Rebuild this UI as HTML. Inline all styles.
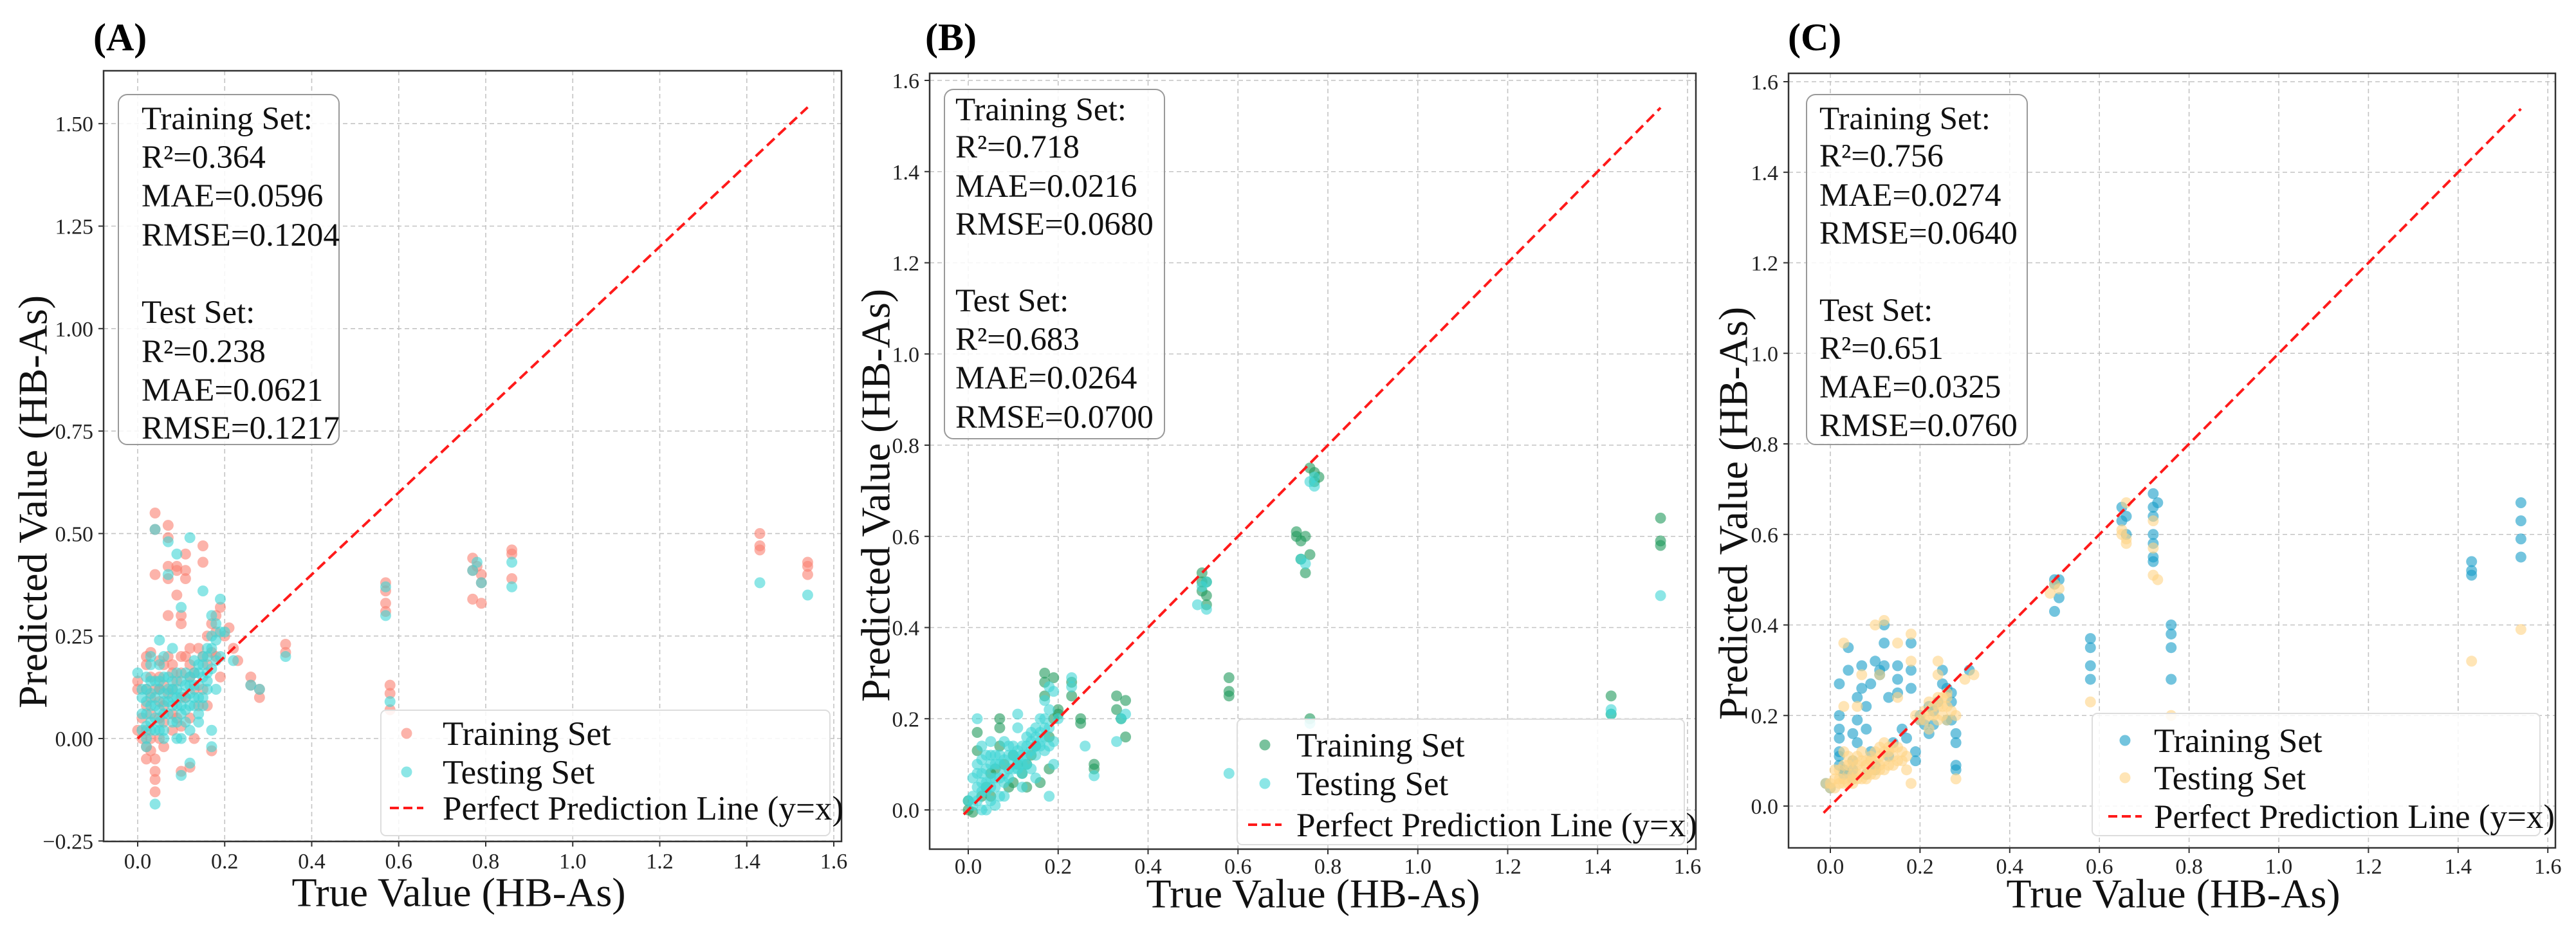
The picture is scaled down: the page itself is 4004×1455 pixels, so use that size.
<!DOCTYPE html>
<html><head><meta charset="utf-8">
<style>
html,body{margin:0;padding:0;background:#fff;}
svg{display:block;}
</style></head>
<body>
<svg id="fig" width="4004" height="1455" viewBox="0 0 4004 1455" xmlns="http://www.w3.org/2000/svg" font-family="'Liberation Serif', serif"></svg>
<script>
// ---- data arrays (true value, predicted value) ----
const aTrain=[[0,0.14],[0,0.12],[0,0.02],[0.01,0.0],[0.01,0.05],[0.02,0.2],[0.02,0.18],[0.02,-0.05],[0.03,0.21],[0.03,0.1],[0.03,-0.03],[0.04,0.55],[0.04,0.51],[0.04,0.4],[0.04,-0.05],[0.04,-0.08],[0.04,-0.1],[0.04,-0.13],[0.05,0.19],[0.05,0.15],[0.05,0.0],[0.06,0.13],[0.06,0.08],[0.07,0.52],[0.07,0.49],[0.07,0.42],[0.07,0.39],[0.07,0.3],[0.08,0.12],[0.08,0.18],[0.09,0.42],[0.09,0.41],[0.09,0.35],[0.09,0.05],[0.1,0.3],[0.1,0.28],[0.1,0.1],[0.1,-0.08],[0.11,0.45],[0.11,0.41],[0.11,0.39],[0.11,0.2],[0.12,0.15],[0.12,-0.07],[0.13,0.12],[0.14,0.22],[0.15,0.47],[0.15,0.43],[0.15,0.2],[0.16,0.25],[0.17,0.28],[0.17,-0.03],[0.18,0.3],[0.18,0.26],[0.19,0.32],[0.19,0.15],[0.2,0.25],[0.21,0.27],[0.22,0.22],[0.23,0.19],[0.26,0.15],[0.26,0.13],[0.28,0.12],[0.28,0.1],[0.34,0.23],[0.34,0.21],[0.57,0.38],[0.57,0.36],[0.57,0.33],[0.57,0.31],[0.58,0.13],[0.58,0.11],[0.58,0.07],[0.77,0.44],[0.77,0.41],[0.77,0.34],[0.78,0.42],[0.79,0.4],[0.79,0.38],[0.79,0.33],[0.86,0.46],[0.86,0.45],[0.86,0.39],[1.43,0.5],[1.43,0.47],[1.43,0.46],[1.54,0.43],[1.54,0.42],[1.54,0.4],[0.02,0.08],[0.03,0.06],[0.04,0.12],[0.05,0.09],[0.06,0.04],[0.07,0.11],[0.08,0.06],[0.09,0.14],[0.1,0.16],[0.11,0.1],[0.12,0.18],[0.13,0.16],[0.14,0.08],[0.15,0.12],[0.16,0.18],[0.17,0.21],[0.02,0.02],[0.03,0.15],[0.05,0.12],[0.06,0.18],[0.08,0.02],[0.1,0.03],[0.12,0.05],[0.02,0.12],[0.03,0.0],[0.05,0.05],[0.06,-0.02],[0.07,0.2],[0.08,0.16],[0.1,0.2],[0.12,0.22],[0.13,0.0],[0.16,0.08],[0.18,0.2],[0.02,-0.02]];
const aTest=[[0,0.16],[0.01,0.1],[0.01,0.06],[0.02,0.12],[0.02,0.03],[0.02,-0.02],[0.03,0.08],[0.03,0.14],[0.03,0.18],[0.04,0.51],[0.04,0.05],[0.04,0.1],[0.04,-0.16],[0.05,0.24],[0.05,0.12],[0.05,0.07],[0.05,0.02],[0.06,0.15],[0.06,0.09],[0.07,0.48],[0.07,0.4],[0.07,0.12],[0.07,0.06],[0.08,0.1],[0.08,0.14],[0.08,0.22],[0.09,0.45],[0.09,0.08],[0.09,0.12],[0.1,0.32],[0.1,0.14],[0.1,0.06],[0.1,-0.09],[0.11,0.16],[0.11,0.1],[0.12,0.49],[0.12,0.13],[0.12,0.08],[0.12,-0.06],[0.13,0.16],[0.13,0.1],[0.14,0.18],[0.14,0.06],[0.15,0.36],[0.15,0.2],[0.15,0.08],[0.16,0.22],[0.16,0.12],[0.17,0.3],[0.17,0.25],[0.17,0.02],[0.17,-0.02],[0.18,0.28],[0.18,0.12],[0.19,0.34],[0.19,0.2],[0.2,0.26],[0.22,0.19],[0.26,0.13],[0.28,0.12],[0.34,0.2],[0.57,0.37],[0.57,0.3],[0.58,0.09],[0.77,0.41],[0.78,0.43],[0.79,0.38],[0.86,0.43],[0.86,0.37],[1.43,0.38],[1.54,0.35],[0.02,0.06],[0.03,0.02],[0.04,0.14],[0.06,0.0],[0.06,0.2],[0.08,0.04],[0.09,0.16],[0.11,0.04],[0.13,0.13],[0.15,0.15],[0.16,0.16],[0.14,0.13],[0.01,0.12],[0.01,0.02],[0.02,0.15],[0.02,0.09],[0.03,0.11],[0.03,0.04],[0.04,0.08],[0.04,0.02],[0.05,0.14],[0.05,0.04],[0.06,0.11],[0.06,0.06],[0.07,0.09],[0.07,0.15],[0.08,0.08],[0.08,0.12],[0.09,0.1],[0.09,0.04],[0.1,0.11],[0.1,0.08],[0.11,0.13],[0.11,0.07],[0.12,0.15],[0.12,0.11],[0.13,0.08],[0.13,0.19],[0.14,0.16],[0.14,0.1],[0.15,0.18],[0.15,0.1],[0.16,0.2],[0.16,0.14],[0.17,0.22],[0.17,0.17],[0.18,0.24],[0.18,0.19],[0.19,0.26],[0.05,0.18],[0.03,0.2],[0.02,0.0],[0.06,0.02],[0.09,0.0],[0.1,0.0],[0.12,0.02],[0.14,0.04]];
const bTrain=[[0,0.02],[0,0],[0.01,-0.005],[0.02,0.17],[0.02,0.13],[0.03,0.03],[0.04,0.05],[0.05,0.08],[0.06,0.09],[0.07,0.2],[0.07,0.18],[0.07,0.14],[0.08,0.1],[0.09,0.05],[0.1,0.12],[0.11,0.1],[0.12,0.08],[0.13,0.1],[0.14,0.12],[0.15,0.14],[0.16,0.06],[0.17,0.3],[0.17,0.28],[0.17,0.25],[0.18,0.16],[0.18,0.09],[0.19,0.29],[0.19,0.2],[0.2,0.22],[0.2,0.21],[0.23,0.28],[0.23,0.25],[0.25,0.2],[0.25,0.19],[0.28,0.1],[0.28,0.09],[0.33,0.25],[0.33,0.22],[0.34,0.2],[0.35,0.24],[0.35,0.16],[0.52,0.52],[0.52,0.5],[0.52,0.48],[0.53,0.47],[0.53,0.45],[0.53,0.5],[0.58,0.29],[0.58,0.26],[0.58,0.25],[0.73,0.61],[0.73,0.6],[0.74,0.59],[0.75,0.6],[0.74,0.55],[0.75,0.52],[0.76,0.56],[0.76,0.2],[0.76,0.75],[0.77,0.74],[0.77,0.72],[0.78,0.73],[1.43,0.25],[1.43,0.21],[1.54,0.64],[1.54,0.59],[1.54,0.58],[0.05,0.03],[0.1,0.06],[0.13,0.05]];
const bTest=[[0,0.02],[0.01,0.03],[0.01,0.07],[0.02,0.2],[0.02,0.1],[0.02,0.05],[0.03,0.14],[0.03,0.08],[0.03,0.04],[0.04,0.12],[0.04,0.06],[0.05,0.15],[0.05,0.1],[0.05,0.05],[0.06,0.12],[0.06,0.07],[0.07,0.1],[0.07,0.03],[0.08,0.15],[0.08,0.08],[0.09,0.12],[0.09,0.07],[0.1,0.14],[0.1,0.09],[0.11,0.18],[0.11,0.11],[0.11,0.21],[0.12,0.12],[0.12,0.08],[0.13,0.14],[0.13,0.1],[0.14,0.15],[0.14,0.09],[0.15,0.16],[0.15,0.12],[0.15,0.07],[0.16,0.2],[0.16,0.14],[0.17,0.24],[0.17,0.18],[0.17,0.13],[0.18,0.27],[0.18,0.14],[0.18,0.03],[0.19,0.26],[0.19,0.1],[0.2,0.2],[0.23,0.29],[0.23,0.27],[0.26,0.14],[0.28,0.075],[0.33,0.15],[0.34,0.2],[0.35,0.21],[0.51,0.45],[0.52,0.49],[0.53,0.5],[0.53,0.44],[0.58,0.08],[0.74,0.55],[0.75,0.54],[0.76,0.19],[0.76,0.72],[0.77,0.71],[0.77,0.73],[1.43,0.22],[1.43,0.21],[1.54,0.47],[0.06,0.01],[0.04,0.0],[0.01,0.01],[0.02,0.02],[0.02,0.08],[0.03,0.06],[0.03,0.11],[0.04,0.04],[0.04,0.09],[0.05,0.07],[0.05,0.12],[0.06,0.05],[0.06,0.1],[0.07,0.07],[0.07,0.12],[0.08,0.06],[0.08,0.11],[0.09,0.09],[0.09,0.14],[0.1,0.1],[0.1,0.12],[0.11,0.09],[0.11,0.13],[0.12,0.1],[0.12,0.14],[0.13,0.12],[0.13,0.16],[0.14,0.13],[0.14,0.17],[0.15,0.14],[0.15,0.18],[0.16,0.15],[0.16,0.17],[0.17,0.16],[0.17,0.2],[0.18,0.18],[0.18,0.22],[0.19,0.15],[0.03,0.0],[0.05,0.02],[0.08,0.03],[0.12,0.05]];
const cTrain=[[-0.01,0.05],[0.0,0.04],[0.02,0.27],[0.02,0.2],[0.02,0.17],[0.02,0.15],[0.02,0.11],[0.03,0.08],[0.04,0.35],[0.04,0.3],[0.05,0.16],[0.05,0.1],[0.06,0.24],[0.06,0.19],[0.06,0.14],[0.07,0.31],[0.07,0.26],[0.08,0.22],[0.08,0.17],[0.09,0.27],[0.09,0.12],[0.1,0.32],[0.1,0.08],[0.11,0.3],[0.11,0.29],[0.12,0.4],[0.12,0.36],[0.12,0.31],[0.13,0.24],[0.14,0.14],[0.15,0.31],[0.15,0.28],[0.15,0.25],[0.16,0.17],[0.17,0.15],[0.18,0.36],[0.18,0.3],[0.18,0.26],[0.19,0.12],[0.19,0.1],[0.2,0.2],[0.21,0.18],[0.22,0.22],[0.23,0.21],[0.24,0.23],[0.25,0.27],[0.25,0.3],[0.26,0.19],[0.27,0.23],[0.27,0.19],[0.28,0.16],[0.28,0.14],[0.28,0.09],[0.28,0.08],[0.31,0.3],[0.5,0.5],[0.5,0.49],[0.5,0.43],[0.51,0.46],[0.51,0.5],[0.58,0.37],[0.58,0.35],[0.58,0.31],[0.58,0.28],[0.65,0.66],[0.65,0.63],[0.66,0.6],[0.66,0.64],[0.72,0.69],[0.72,0.66],[0.72,0.64],[0.72,0.6],[0.72,0.58],[0.72,0.55],[0.72,0.54],[0.73,0.67],[0.76,0.4],[0.76,0.38],[0.76,0.35],[0.76,0.28],[1.43,0.54],[1.43,0.52],[1.43,0.51],[1.54,0.67],[1.54,0.63],[1.54,0.59],[1.54,0.55],[0.02,0.12],[0.05,0.06],[0.08,0.07],[0.02,0.09],[0.03,0.07],[0.05,0.08],[0.1,0.09],[0.13,0.11],[0.2,0.19],[0.23,0.18],[0.26,0.26],[0.27,0.25],[0.22,0.16]];
const cTest=[[-0.01,0.05],[0,0.04],[0.01,0.06],[0.02,0.05],[0.02,0.08],[0.03,0.36],[0.03,0.22],[0.03,0.12],[0.03,0.06],[0.04,0.09],[0.04,0.05],[0.05,0.1],[0.05,0.07],[0.05,0.06],[0.06,0.22],[0.06,0.11],[0.06,0.07],[0.07,0.29],[0.07,0.12],[0.07,0.08],[0.08,0.1],[0.08,0.07],[0.09,0.11],[0.09,0.08],[0.1,0.4],[0.1,0.12],[0.1,0.08],[0.11,0.29],[0.11,0.13],[0.11,0.09],[0.12,0.41],[0.12,0.14],[0.12,0.1],[0.13,0.12],[0.14,0.11],[0.15,0.36],[0.15,0.24],[0.15,0.13],[0.16,0.1],[0.17,0.08],[0.18,0.38],[0.18,0.32],[0.18,0.05],[0.19,0.2],[0.2,0.19],[0.21,0.21],[0.22,0.23],[0.23,0.2],[0.24,0.22],[0.24,0.32],[0.24,0.29],[0.25,0.24],[0.25,0.2],[0.26,0.25],[0.26,0.22],[0.27,0.21],[0.28,0.2],[0.28,0.06],[0.3,0.28],[0.32,0.29],[0.49,0.47],[0.5,0.49],[0.51,0.48],[0.58,0.23],[0.65,0.61],[0.65,0.6],[0.66,0.59],[0.66,0.58],[0.66,0.67],[0.72,0.63],[0.72,0.57],[0.72,0.51],[0.73,0.5],[0.76,0.2],[1.43,0.32],[1.54,0.39],[0,0.05],[0.01,0.04],[0.01,0.08],[0.02,0.06],[0.03,0.05],[0.03,0.09],[0.04,0.07],[0.04,0.11],[0.05,0.05],[0.05,0.09],[0.06,0.06],[0.06,0.09],[0.07,0.06],[0.07,0.1],[0.08,0.06],[0.08,0.09],[0.09,0.07],[0.09,0.1],[0.1,0.07],[0.1,0.1],[0.11,0.08],[0.11,0.11],[0.12,0.08],[0.12,0.12],[0.13,0.09],[0.13,0.13],[0.14,0.09],[0.14,0.13],[0.15,0.1],[0.16,0.12],[0.17,0.11],[0.21,0.19],[0.22,0.2],[0.23,0.22],[0.24,0.24],[0.25,0.22],[0.26,0.24],[0.22,0.17],[0.24,0.19],[0.26,0.19]];
const xTicks=[0.0,0.2,0.4,0.6,0.8,1.0,1.2,1.4,1.6];
const xTickLabels=["0.0","0.2","0.4","0.6","0.8","1.0","1.2","1.4","1.6"];
const aYTicks=[-0.25,0,0.25,0.5,0.75,1.0,1.25,1.5];
const aYTickLabels=["\u22120.25","0.00","0.25","0.50","0.75","1.00","1.25","1.50"];
const bcYTicks=[0,0.2,0.4,0.6,0.8,1.0,1.2,1.4,1.6];
const bcYTickLabels=["0.0","0.2","0.4","0.6","0.8","1.0","1.2","1.4","1.6"];
const aStats=["Training Set:","R\u00b2=0.364","MAE=0.0596","RMSE=0.1204","","Test Set:","R\u00b2=0.238","MAE=0.0621","RMSE=0.1217"];
const bStats=["Training Set:","R\u00b2=0.718","MAE=0.0216","RMSE=0.0680","","Test Set:","R\u00b2=0.683","MAE=0.0264","RMSE=0.0700"];
const cStats=["Training Set:","R\u00b2=0.756","MAE=0.0274","RMSE=0.0640","","Test Set:","R\u00b2=0.651","MAE=0.0325","RMSE=0.0760"];
const lineStart=[0,-0.01,-0.015];
const lineEnd=1.54;

const NS="http://www.w3.org/2000/svg";
const svg=document.getElementById('fig');
function mk(tag,attrs,parent){const e=document.createElementNS(NS,tag);for(const k in attrs)e.setAttribute(k,attrs[k]);(parent||svg).appendChild(e);return e;}

const panels=[
 {id:'a',title:'(A)',tx:145,L:161,R:1308,T:110,B:1308,x0:214,xs:135.25/0.2,y0:1148,ys:159.3/0.25,yt:aYTicks,ytl:aYTickLabels,train:aTrain,test:aTest,cTr:'#fa8072',cTe:'#40d6d6',stats:aStats,
  box:[184,147,527,691],sx:220,sy:[183,243,303,364,0,484,545,605,664],leg:[592,1104,1290,1299],legY:[1140,1200,1256],mx:632,lx:688,ylx:51,yly:780,xlx:713,xly:1387,xtly:1338,ls:lineStart[0]},
 {id:'b',title:'(B)',tx:1438,L:1445,R:2636,T:114,B:1320,x0:1505,xs:139.75/0.2,y0:1259,ys:141.75/0.2,yt:bcYTicks,ytl:bcYTickLabels,train:bTrain,test:bTest,cTr:'#1f9a5c',cTe:'#40d6d6',stats:bStats,
  box:[1468,139,1810,682],sx:1485,sy:[169,227,288,347,0,466,526,586,647],leg:[1923,1118,2618,1313],legY:[1158,1218,1282],mx:1966,lx:2015,ylx:1361,yly:770,xlx:2041,xly:1389,xtly:1346,ls:lineStart[1]},
 {id:'c',title:'(C)',tx:2779,L:2780,R:3972,T:114,B:1318,x0:2845,xs:139.4/0.2,y0:1253,ys:140.75/0.2,yt:bcYTicks,ytl:bcYTickLabels,train:cTrain,test:cTest,cTr:'#169cc8',cTe:'#ffd485',stats:cStats,
  box:[2808,147,3151,691],sx:2828,sy:[183,241,302,361,0,481,540,600,660],leg:[3252,1109,3948,1299],legY:[1151,1209,1269],mx:3303,lx:3348,ylx:2694,yly:798,xlx:3378,xly:1389,xtly:1346,ls:lineStart[2]}
];

panels.forEach(p=>{
  const X=v=>p.x0+v*p.xs, Y=v=>p.y0-v*p.ys;
  const g=mk('g',{});
  
  
  const t=mk('text',{x:p.tx,y:78,'font-size':60,'font-weight':'bold',fill:'#000'},g);t.textContent=p.title;
  
  
  const grid=mk('g',{stroke:'#c4c4c4','stroke-width':1.6,'stroke-dasharray':'7,5'},g);
  
  
  xTicks.forEach(v=>{mk('line',{x1:X(v),x2:X(v),y1:p.T,y2:p.B},grid);});
  p.yt.forEach(v=>{mk('line',{x1:p.L,x2:p.R,y1:Y(v),y2:Y(v)},grid);});
  const xt=mk('g',{'font-size':34,'text-anchor':'middle',fill:'#222'},g);
  
  
  xTicks.forEach((v,i)=>{mk('line',{x1:X(v),x2:X(v),y1:p.B,y2:p.B+8,stroke:'#333','stroke-width':2},xt);const e=mk('text',{x:X(v),y:p.xtly+12},xt);e.textContent=xTickLabels[i];});
  const yt=mk('g',{'font-size':34,'text-anchor':'end',fill:'#222'},g);
  
  
  p.yt.forEach((v,i)=>{mk('line',{x1:p.L-8,x2:p.L,y1:Y(v),y2:Y(v),stroke:'#333','stroke-width':2},yt);const e=mk('text',{x:p.L-16,y:Y(v)+12},yt);e.textContent=p.ytl[i];});
  const pts=mk('g',{},g);
  
  
  p.train.forEach(d=>{const c=mk('circle',{cx:X(d[0]),cy:Y(d[1]),r:8.5,fill:p.cTr,'fill-opacity':0.6},pts);
    
    });
  p.test.forEach(d=>{const c=mk('circle',{cx:X(d[0]),cy:Y(d[1]),r:8.5,fill:p.cTe,'fill-opacity':0.6},pts);
    
    });
  const ln=mk('line',{x1:X(p.ls),y1:Y(p.ls),x2:X(lineEnd),y2:Y(lineEnd),stroke:'#ff1a1a','stroke-width':4,'stroke-dasharray':'16,8'},g);
  
  
  const fr=mk('rect',{x:p.L,y:p.T,width:p.R-p.L,height:p.B-p.T,fill:'none',stroke:'#333','stroke-width':2.5},g);
  
  
  const bx=mk('g',{},g);
  
  
  mk('rect',{x:p.box[0],y:p.box[1],width:p.box[2]-p.box[0],height:p.box[3]-p.box[1],rx:14,fill:'#fff','fill-opacity':0.85,stroke:'#999','stroke-width':2},bx);
  p.stats.forEach((s,i)=>{if(!s)return;const e=mk('text',{x:p.sx,y:p.sy[i]+18,'font-size':51,fill:'#111'},bx);e.textContent=s;});
  const lg=mk('g',{},g);
  
  
  mk('rect',{x:p.leg[0],y:p.leg[1],width:p.leg[2]-p.leg[0],height:p.leg[3]-p.leg[1],rx:8,fill:'#fff','fill-opacity':0.85,stroke:'#ddd','stroke-width':2},lg);
  mk('circle',{cx:p.mx,cy:p.legY[0],r:8.5,fill:p.cTr,'fill-opacity':0.6},lg);
  mk('circle',{cx:p.mx,cy:p.legY[1],r:8.5,fill:p.cTe,'fill-opacity':0.6},lg);
  mk('line',{x1:p.mx-26,x2:p.mx+26,y1:p.legY[2],y2:p.legY[2],stroke:'#ff1a1a','stroke-width':4,'stroke-dasharray':'14,7'},lg);
  ["Training Set","Testing Set","Perfect Prediction Line (y=x)"].forEach((s,i)=>{const e=mk('text',{x:p.lx,y:p.legY[i]+18,'font-size':53,fill:'#111'},lg);e.textContent=s;});
  const yl=mk('text',{x:p.ylx,y:p.yly,'font-size':64,'text-anchor':'middle','dominant-baseline':'central',transform:`rotate(-90 ${p.ylx} ${p.yly})`,fill:'#111'},g);
  yl.textContent='Predicted Value (HB-As)';
  
  
  const xl=mk('text',{x:p.xlx,y:p.xly,'font-size':64,'text-anchor':'middle','dominant-baseline':'central',fill:'#111'},g);
  xl.textContent='True Value (HB-As)';
  
  
});
</script>
</body></html>
